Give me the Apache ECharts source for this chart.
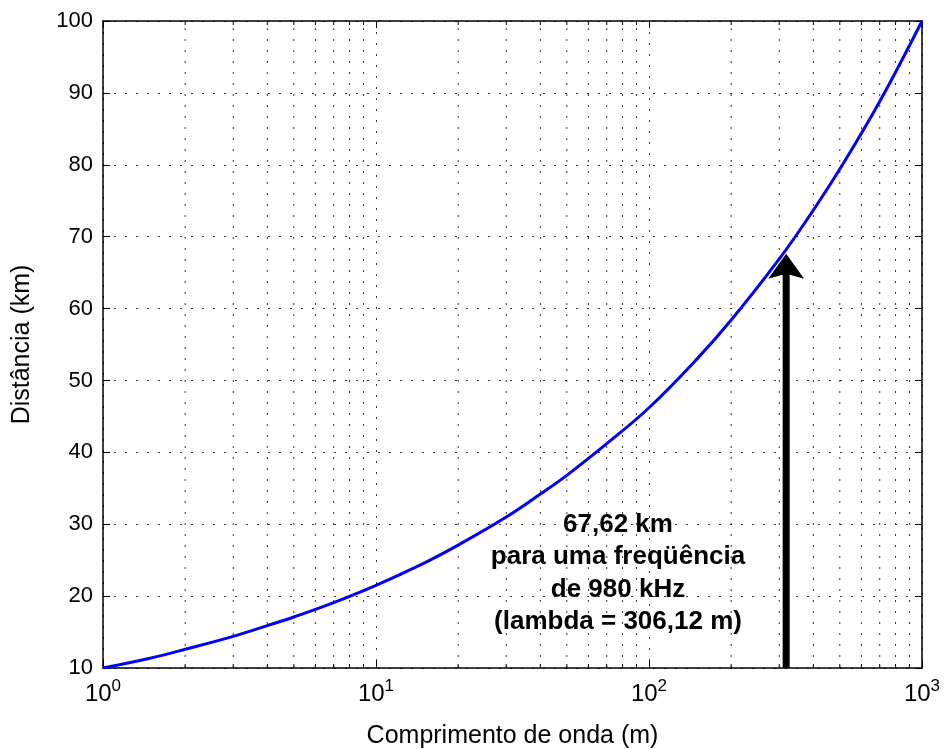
<!DOCTYPE html>
<html>
<head>
<meta charset="utf-8">
<script src="https://cdn.jsdelivr.net/npm/echarts@6/dist/echarts.min.js"></script>
<style>
  html, body { margin: 0; padding: 0; background: #fff; }
  #chart { width: 946px; height: 749px; }
</style>
</head>
<body>
<div id="chart"></div>
<script>
// comprimento de onda (m) x distância (km)
const lambdaM = [1, 1.5, 2, 3, 4, 5, 7, 10, 15, 20, 30, 40, 50, 70, 100, 150, 200, 300, 400, 500, 700, 1000];
const distKm = [10, 11.4, 12.6, 14.4, 15.9, 17.1, 19.1, 21.5, 24.6, 27.1, 31.0, 34.2, 36.8, 41.2, 46.2, 53.0, 58.4, 66.9, 73.7, 79.4, 88.8, 100];

// linhas de grade secundárias do eixo log
const minorX = [2, 3, 4, 5, 6, 7, 8, 9, 20, 30, 40, 50, 60, 70, 80, 90, 200, 300, 400, 500, 600, 700, 800, 900];

// seta de anotação
const arrowX = 318;
const arrowBase = 10;
const arrowTip = 67.62;
const noteLines = ['67,62 km', 'para uma freqüência', 'de 980 kHz', '(lambda = 306,12 m)'];

const FONT = '"Liberation Sans", Arial, Helvetica, sans-serif';
const dotted = [2, 9];

const chart = echarts.init(document.getElementById('chart'));

const curve = lambdaM.map((x, i) => [x, distKm[i]]);

const option = {
  animation: false,
  grid: { left: 103, right: 24, top: 21, bottom: 81, outerBoundsMode: 'none', containLabel: false },
  xAxis: [{
    type: 'log',
    logBase: 10,
    min: 1,
    max: 1000,
    position: 'bottom',
    name: 'Comprimento de onda (m)',
    nameLocation: 'middle',
    nameGap: 56,
    nameTextStyle: { fontFamily: FONT, fontSize: 25, color: '#000' },
    axisLine: { lineStyle: { color: '#000', width: 1.5 } },
    axisTick: { inside: true, length: 7, lineStyle: { color: '#000', width: 1 } },
    axisLabel: {
      margin: 10,
      color: '#000',
      fontFamily: FONT,
      formatter: function (v) {
        return '{b|10}{s|' + Math.round(Math.log10(v)) + '}';
      },
      rich: {
        b: { fontSize: 24, fontFamily: FONT, color: '#000' },
        s: { fontSize: 17, fontFamily: FONT, color: '#000', padding: [0, 0, 16, 0] }
      }
    },
    splitLine: { show: true, lineStyle: { color: '#333', width: 1, type: dotted } }
  }, {
    type: 'log',
    logBase: 10,
    min: 1,
    max: 1000,
    position: 'top',
    axisLine: { lineStyle: { color: '#000', width: 1.5 } },
    axisTick: { inside: true, length: 7, lineStyle: { color: '#000', width: 1 } },
    axisLabel: { show: false },
    splitLine: { show: false }
  }],
  yAxis: [{
    type: 'value',
    min: 10,
    max: 100,
    interval: 10,
    position: 'left',
    name: 'Distância (km)',
    nameLocation: 'middle',
    nameGap: 68,
    nameTextStyle: { fontFamily: FONT, fontSize: 25, color: '#000' },
    axisLine: { show: true, lineStyle: { color: '#000', width: 1.5 } },
    axisTick: { show: true, inside: true, length: 7, lineStyle: { color: '#000', width: 1 } },
    axisLabel: { margin: 10, color: '#000', fontFamily: FONT, fontSize: 22 },
    splitLine: { show: true, lineStyle: { color: '#333', width: 1, type: dotted } }
  }, {
    type: 'value',
    min: 10,
    max: 100,
    interval: 10,
    position: 'right',
    axisLine: { show: true, lineStyle: { color: '#000', width: 1.5 } },
    axisTick: { show: true, inside: true, length: 7, lineStyle: { color: '#000', width: 1 } },
    axisLabel: { show: false },
    splitLine: { show: false }
  }],
  series: [{
    // grade secundária + ticks menores
    type: 'custom',
    silent: true,
    z: 1,
    data: minorX.map(x => [x]),
    renderItem: function (params, api) {
      const bot = api.coord([api.value(0), 10]);
      const top = api.coord([api.value(0), 100]);
      return {
        type: 'group',
        children: [{
          type: 'line',
          shape: { x1: bot[0], y1: bot[1], x2: top[0], y2: top[1] },
          style: { stroke: '#333', lineWidth: 1, lineDash: dotted }
        }, {
          type: 'line',
          shape: { x1: bot[0], y1: bot[1], x2: bot[0], y2: bot[1] - 4 },
          style: { stroke: '#000', lineWidth: 1 }
        }, {
          type: 'line',
          shape: { x1: top[0], y1: top[1], x2: top[0], y2: top[1] + 4 },
          style: { stroke: '#000', lineWidth: 1 }
        }]
      };
    }
  }, {
    type: 'line',
    data: curve,
    smooth: 0.4,
    showSymbol: false,
    z: 3,
    lineStyle: { color: '#0000ff', width: 3 }
  }, {
    // seta preta
    type: 'custom',
    silent: true,
    z: 4,
    data: [[arrowX, arrowBase, arrowTip]],
    renderItem: function (params, api) {
      const base = api.coord([api.value(0), api.value(1)]);
      const tip = api.coord([api.value(0), api.value(2)]);
      const x = tip[0];
      const headLen = 25;
      const halfW = 18;
      return {
        type: 'group',
        children: [{
          type: 'rect',
          shape: { x: x - 3.5, y: tip[1] + headLen - 6, width: 7, height: base[1] - tip[1] - headLen + 6 },
          style: { fill: '#000' }
        }, {
          type: 'polygon',
          shape: { points: [[x, tip[1]], [x + halfW, tip[1] + headLen], [x, tip[1] + headLen - 5], [x - halfW, tip[1] + headLen]] },
          style: { fill: '#000' }
        }]
      };
    }
  }],
  graphic: noteLines.map((t, i) => ({
    type: 'text',
    style: {
      text: t,
      x: 618,
      y: 525 + i * 32.3,
      align: 'center',
      verticalAlign: 'middle',
      font: 'bold 26px ' + FONT,
      fill: '#000'
    }
  }))
};

chart.setOption(option);
</script>
</body>
</html>
